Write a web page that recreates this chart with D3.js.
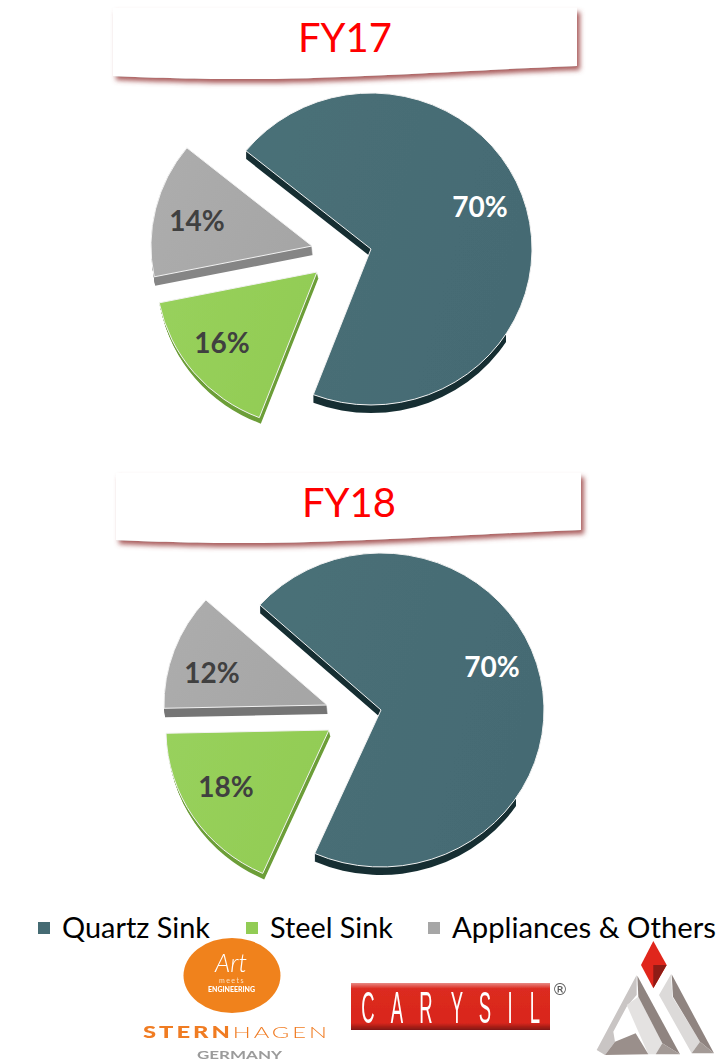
<!DOCTYPE html>
<html><head><meta charset="utf-8">
<script src="https://cdn.jsdelivr.net/npm/d3@7/dist/d3.min.js"></script>
<style>html,body{margin:0;padding:0;background:#fff}svg{display:block}text{font-family:Lato,"Open Sans",sans-serif}</style>
</head><body><svg id="c" width="725" height="1060" viewBox="0 0 725 1060"></svg>
<script>
// ---- data ----
const categories = ["Quartz Sink", "Steel Sink", "Appliances & Others"];
const fy17Values = [70, 16, 14];
const fy18Values = [70, 18, 12];
const fyLabels = ["FY17", "FY18"];

// ---- style / layout ----
const faceColors = ["#456b73", "#92cc55", "#a6a6a6"];
const faceLight = ["#4a7078", "#98d15c", "#adadad"];
const labelColors = ["#ffffff", "#404040", "#404040"];
const layouts = [
  {cx:371, cy:249, rx:161, ry:156, startDeg:-51,
   explode:[[0,0],[-54,23],[-59,-3]], depth:[[0,8],[1.5,6],[1,9]],
   sides:["#162f33", "#6c9e38", "#858585"],
   labels:[[480,207],[222,343],[197,221]],
   title:{x:345, y:52, box:"M113,8 L577,8 L577,66 C470,70 330,80 230,79 C180,79 140,77 113,76 Z"}},
  {cx:381, cy:710, rx:163, ry:157, startDeg:-48,
   explode:[[0,0],[-52,20],[-54,-5]], depth:[[0,8],[1.5,6],[1,9]],
   sides:["#162f33", "#6c9e38", "#757575"],
   labels:[[492,667],[226,787],[212,673]],
   title:{x:349, y:517, box:"M116,473 L581,473 L581,530 C474,534 334,544 233,543 C183,543 143,541 116,540 Z"}}
];

const svg = d3.select("#c");
const defs = svg.append("defs");
const f = defs.append("filter").attr("id","ribbon").attr("x","-5%").attr("y","-20%").attr("width","110%").attr("height","150%");
f.append("feDropShadow").attr("dx",3).attr("dy",4).attr("stdDeviation",2.4).attr("flood-color","#a04c4c").attr("flood-opacity",0.9);
const fs = defs.append("filter").attr("id","soft").attr("x","-5%").attr("y","-5%").attr("width","110%").attr("height","110%");
fs.append("feGaussianBlur").attr("stdDeviation",0.45);
faceColors.forEach((c,i)=>{
  const g = defs.append("linearGradient").attr("id","face"+i).attr("x1","0").attr("x2","1").attr("y1","0").attr("y2","0.3");
  g.append("stop").attr("offset","0").attr("stop-color",faceLight[i]);
  g.append("stop").attr("offset","1").attr("stop-color",c);
});

[fy17Values, fy18Values].forEach((vals,k)=>{
  const L = layouts[k];
  const pie = d3.pie().sort(null).startAngle(L.startDeg*Math.PI/180).endAngle((L.startDeg+360)*Math.PI/180);
  defs.append("clipPath").attr("id","rim"+k).append("rect")
    .attr("x",0).attr("y",0).attr("width",L.cx+135).attr("height",1060);
  const root = svg.append("g");
  root.append("path").attr("d",L.title.box).attr("fill","#fff").attr("filter","url(#ribbon)");
  root.append("text").attr("x",L.title.x).attr("y",L.title.y).attr("text-anchor","middle")
    .attr("font-size",40).attr("fill","#ff0000").text(fyLabels[k]);
  const arc = d3.arc().innerRadius(0).outerRadius(L.rx);
  const sy = L.ry/L.rx;
  const arcs = pie(vals);
  arcs.forEach((d,i)=>{
    const [ex,ey] = L.explode[i], [dx,dy] = L.depth[i];
    const g = root.append("g").attr("filter","url(#soft)");
    const side = g.append("g");
    if(i===0) side.attr("clip-path",`url(#rim${k})`);
    d3.range(1,Math.ceil(dy)+1).forEach(s=>{
      const t = s/Math.ceil(dy);
      side.append("path").attr("d",arc(d))
        .attr("transform",`translate(${L.cx+ex+dx*t},${L.cy+ey+dy*t}) scale(1,${sy})`)
        .attr("fill",L.sides[i]);
    });
    g.append("path").attr("d",arc(d))
      .attr("transform",`translate(${L.cx+ex},${L.cy+ey}) scale(1,${sy})`)
      .attr("fill",`url(#face${i})`).attr("stroke","#f2f2f2").attr("stroke-width",1)
      .attr("vector-effect","non-scaling-stroke");
    root.append("text").attr("x",L.labels[i][0]).attr("y",L.labels[i][1]+10)
      .attr("text-anchor","middle").attr("font-size",28).attr("font-weight",700)
      .attr("fill",labelColors[i]).text(d.data+"%");
  });
});

// ---- legend ----
const legendX = [38,246,428];
const legendW = [148,123,264];
const lg = svg.append("g");
categories.forEach((c,i)=>{
  lg.append("rect").attr("x",legendX[i]).attr("y",922).attr("width",12).attr("height",12).attr("fill",faceColors[i]);
  lg.append("text").attr("x",legendX[i]+24).attr("y",938).attr("font-size",28).attr("fill","#000")
    .attr("textLength",legendW[i]).attr("lengthAdjust","spacingAndGlyphs").text(c);
});

// ---- logos ----
const s1 = svg.append("g").attr("filter","url(#soft)");
s1.append("ellipse").attr("cx",232).attr("cy",975.5).attr("rx",48.5).attr("ry",37.5).attr("fill","#f0821e");
s1.append("text").attr("x",231).attr("y",972).attr("text-anchor","middle").attr("font-size",25)
  .attr("font-style","italic").attr("font-weight",300).attr("fill","#fff").text("Art");
s1.append("text").attr("x",232).attr("y",983).attr("text-anchor","middle").attr("font-size",7).attr("letter-spacing",1.5).attr("fill","#fde0c0").text("meets");
s1.append("text").attr("x",208).attr("y",992).attr("font-size",6.5).attr("font-weight",900).attr("fill","#fff")
  .attr("textLength",47).attr("lengthAdjust","spacingAndGlyphs").text("ENGINEERING");
const sh = s1.append("text").attr("x",143).attr("y",1038).attr("font-size",16).attr("fill","#f07b22")
  .attr("letter-spacing",2).attr("textLength",187).attr("lengthAdjust","spacingAndGlyphs");
sh.append("tspan").attr("font-weight",900).text("STERN");
sh.append("tspan").attr("font-weight",300).text("HAGEN");
s1.append("text").attr("x",197).attr("y",1059).attr("font-size",11).attr("font-weight",700).attr("fill","#9b9b9b")
  .attr("textLength",85).attr("lengthAdjust","spacingAndGlyphs").text("GERMANY");

const rg = defs.append("linearGradient").attr("id","cary").attr("x1",0).attr("x2",0).attr("y1",0).attr("y2",1);
[[0,"#e88a85"],[.12,"#dc2b20"],[.85,"#d9261c"],[1,"#7f1712"]].forEach(([o,c])=>rg.append("stop").attr("offset",o).attr("stop-color",c));
const cg = svg.append("g").attr("filter","url(#soft)");
cg.append("rect").attr("x",351).attr("y",983).attr("width",199).attr("height",47).attr("fill","url(#cary)");
const letters = "CARYSIL".split(""), letterX = [368,397,426,457,485,510,535];
letters.forEach((ch,i)=>{
  cg.append("text").attr("transform",`translate(${letterX[i]},1023) scale(.42,1)`).attr("text-anchor","middle")
    .attr("font-size",44).attr("fill","#fff").style("font-family","'Liberation Sans',sans-serif").text(ch);
});
cg.append("text").attr("x",560).attr("y",995).attr("text-anchor","middle").attr("font-size",16).attr("fill","#555").style("font-family","'DejaVu Sans',sans-serif").text("®");

const tri = svg.append("g").attr("transform","translate(585,935) scale(.3333)").attr("filter","url(#soft)");
const polys = [
  ["#e0261a",[[205,18],[245,90],[205,160],[168,90]]],
  ["#8e1a12",[[205,90],[245,90],[205,160]]],
  ["#c9c5c4",[[155,120],[35,345],[60,360],[90,320],[85,290],[125,215],[155,180]]],
  ["#e4e2e1",[[125,210],[160,185],[232,325],[212,358],[190,358]]],
  ["#8f8480",[[157,122],[285,358],[232,325],[160,185]]],
  ["#a39a96",[[232,325],[285,358],[212,358]]],
  ["#9a8f8b",[[152,295],[190,358],[60,360],[90,320]]],
  ["#dcdad9",[[258,118],[222,180],[320,355],[345,320],[262,185]]],
  ["#8f8480",[[260,118],[387,355],[345,320],[264,185]]],
  ["#a39a96",[[345,320],[387,355],[320,355]]]
];
polys.forEach(([c,p])=>tri.append("polygon").attr("points",p.join(" ")).attr("fill",c));
</script></body></html>
